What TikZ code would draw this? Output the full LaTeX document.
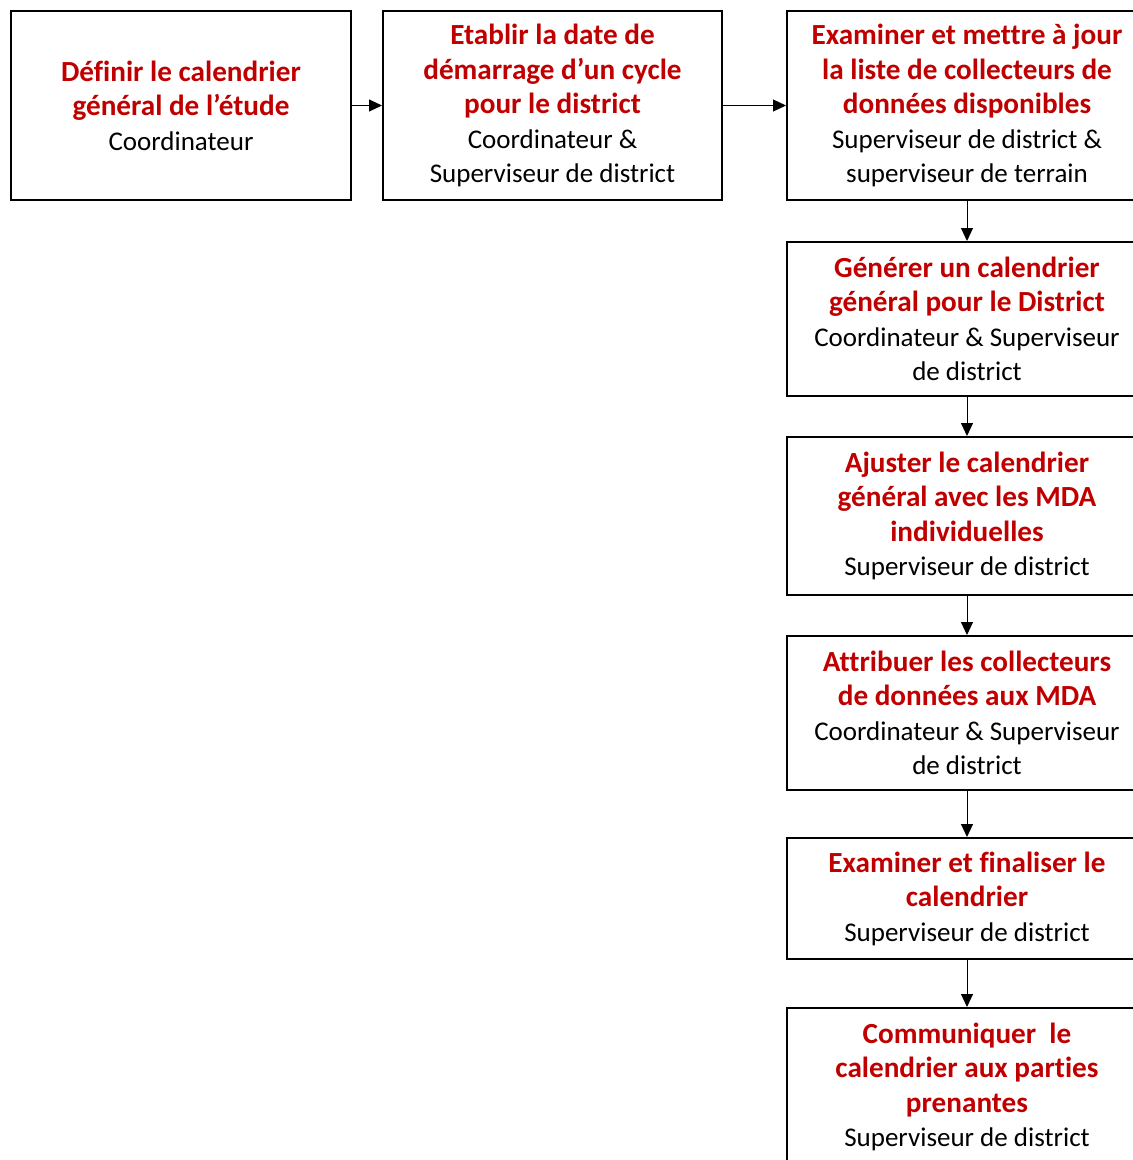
\documentclass[tikz,border=0pt]{standalone}
\usepackage{fontspec}
\setmainfont{Carlito}[Ligatures={NoCommon}]
\usetikzlibrary{arrows.meta}
\definecolor{stepred}{HTML}{C00000}
\newcommand\redtxt{\color{stepred}\bfseries\fontsize{29.2}{34.5}\selectfont}
\newcommand\blktxt{\color{black}\mdseries\fontsize{27}{34.5}\selectfont}
\tikzset{
  stepbox/.style={draw=black, line width=2pt, rectangle, inner sep=0pt, align=center, font=\fontsize{29.2}{34.5}\selectfont},
  arr/.style={line width=1pt, -{Triangle[length=13pt,width=12pt]}}
}
\begin{document}
\begin{tikzpicture}[x=1pt,y=-1pt]
\useasboundingbox (0,0) rectangle (1133,1160);
\clip (0,0) rectangle (1133,1160);
\node[stepbox, minimum width=340pt, minimum height=189pt] (b1) at (181,105.5)
  {{\redtxt Définir le calendrier}\\{\redtxt général de l’étude}\\{\blktxt Coordinateur}};
\node[stepbox, minimum width=339pt, minimum height=189pt] (b2) at (552.5,105.5)
  {{\redtxt Etablir la date de}\\{\redtxt démarrage d’un cycle}\\{\redtxt pour le district}\\{\blktxt Coordinateur \&}\\{\blktxt Superviseur de district}};
\node[stepbox, minimum width=360pt, minimum height=189pt] (b3) at (967,105.5)
  {{\redtxt Examiner et mettre à jour}\\{\redtxt la liste de collecteurs de}\\{\redtxt données disponibles}\\{\blktxt Superviseur de district \&}\\{\blktxt superviseur de terrain}};
\node[stepbox, minimum width=360pt, minimum height=154pt] (b4) at (967,319)
  {{\redtxt Générer un calendrier}\\{\redtxt général pour le District}\\{\blktxt Coordinateur \& Superviseur}\\{\blktxt de district}};
\node[stepbox, minimum width=360pt, minimum height=158pt] (b5) at (967,516)
  {{\redtxt Ajuster le calendrier}\\{\redtxt général avec les MDA}\\{\redtxt individuelles}\\{\blktxt Superviseur de district}};
\node[stepbox, minimum width=360pt, minimum height=154pt] (b6) at (967,713)
  {{\redtxt Attribuer les collecteurs}\\{\redtxt de données aux MDA}\\{\blktxt Coordinateur \& Superviseur}\\{\blktxt de district}};
\node[stepbox, minimum width=360pt, minimum height=121pt] (b7) at (967,898.5)
  {{\redtxt Examiner et finaliser le}\\{\redtxt calendrier}\\{\blktxt Superviseur de district}};
\node[stepbox, minimum width=360pt, minimum height=158pt] (b8) at (967,1087)
  {{\redtxt Communiquer\ \ le}\\{\redtxt calendrier aux parties}\\{\redtxt prenantes}\\{\blktxt Superviseur de district}};
\draw[arr] (b1) -- (b2);
\draw[arr] (b2) -- (b3);
\draw[arr] (b3) -- (b4);
\draw[arr] (b4) -- (b5);
\draw[arr] (b5) -- (b6);
\draw[arr] (b6) -- (b7);
\draw[arr] (b7) -- (b8);
\end{tikzpicture}
\end{document}
